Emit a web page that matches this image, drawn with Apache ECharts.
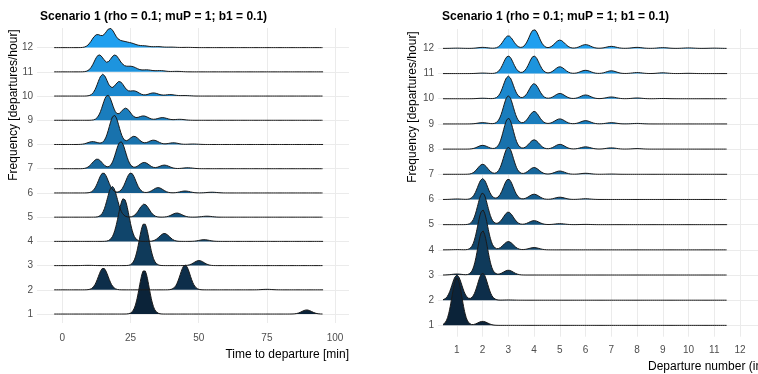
<!DOCTYPE html>
<html>
<head>
<meta charset="utf-8">
<script src="https://cdn.jsdelivr.net/npm/echarts@6/dist/echarts.min.js"></script>
<style>
  html, body { margin: 0; padding: 0; background: #fff; }
  #chart { width: 758px; height: 374px; }
</style>
</head>
<body>
<div id="chart"></div>
<script>
// 频率行 1..12
var rows = [1, 2, 3, 4, 5, 6, 7, 8, 9, 10, 11, 12];
var timeTicks = [0, 25, 50, 75, 100];
var departureTicks = [1, 2, 3, 4, 5, 6, 7, 8, 9, 10, 11, 12];

// 左图：每行的峰 [分钟, 高度(行距)]
var timePeaks = [
  [[30, 1.82], [89.6, 0.17]],
  [[15, 0.90], [45, 1.03], [75, 0.02]],
  [[9.5, 0.01], [30, 1.75], [50.1, 0.21]],
  [[21.2, 0.45], [22.8, 1.45], [37.4, 0.33], [52, 0.07]],
  [[18.3, 1.27], [30, 0.54], [42, 0.17], [53, 0.04]],
  [[15, 0.83], [25.1, 0.83], [35.1, 0.22], [45, 0.08], [54.8, 0.03]],
  [[12.8, 0.40], [21.4, 1.12], [30, 0.26], [37.4, 0.15], [46, 0.04]],
  [[11.1, 0.12], [19, 1.21], [26.3, 0.34], [33.4, 0.18], [40.7, 0.07], [48, 0.02]],
  [[16.6, 1.04], [23.2, 0.50], [29.7, 0.18], [36.7, 0.11], [43, 0.04]],
  [[14.8, 0.90], [20.9, 0.60], [26.3, 0.21], [33.4, 0.13], [39.5, 0.06], [45, 0.02]],
  [[13.5, 0.70], [19.2, 0.68], [23, 0.12], [25.8, 0.18], [31, 0.08], [36, 0.05], [42, 0.02]],
  [[12.6, 0.52], [17.5, 0.78], [22, 0.22], [25.5, 0.15], [30, 0.07], [35, 0.04], [40, 0.02], [46, 0.01]]
];

// 右图：每行各班次 1..11 的高度(行距)
var departureShares = [
  [1.90, 0.16, 0, 0, 0, 0, 0, 0, 0, 0, 0],
  [1.00, 1.08, 0.01, 0, 0, 0, 0, 0, 0, 0, 0],
  [0.04, 1.76, 0.19, 0, 0, 0, 0, 0, 0, 0, 0],
  [0.01, 1.59, 0.33, 0.09, 0, 0, 0, 0, 0, 0, 0],
  [0, 1.26, 0.50, 0.16, 0.04, 0.01, 0, 0, 0, 0, 0],
  [0.02, 0.83, 0.81, 0.21, 0.09, 0.03, 0, 0, 0, 0, 0],
  [0, 0.40, 1.08, 0.27, 0.13, 0.04, 0.01, 0, 0, 0, 0],
  [0, 0.15, 1.23, 0.37, 0.19, 0.09, 0.05, 0.02, 0, 0, 0],
  [0, 0.05, 1.12, 0.50, 0.20, 0.13, 0.05, 0.02, 0, 0, 0],
  [0, 0.02, 0.90, 0.60, 0.21, 0.15, 0.07, 0.03, 0.01, 0, 0],
  [0, 0.02, 0.70, 0.70, 0.27, 0.13, 0.11, 0.04, 0.03, 0.01, 0],
  [0.01, 0.04, 0.50, 0.75, 0.33, 0.15, 0.08, 0.04, 0.03, 0.02, 0.01]
];

var FONT = "'Liberation Sans', Arial, sans-serif";
var GRID_COLOR = "#ebebeb";

//  颜色渐变
function rowColor(i) {
  var lo = [11, 35, 57], hi = [31, 159, 239];
  var t = i / 11;
  var c = lo.map(function(v, k) { return Math.round(v + (hi[k] - v) * t); });
  return "rgb(" + c.join(",") + ")";
}

//  核密度曲线
function ridge(peaks, from, to, step, bw, row) {
  var pts = [];
  for (var x = from; x <= to + 1e-9; x += step) {
    var d = 0;
    peaks.forEach(function(p) {
      d += p[1] * Math.exp(-(x - p[0]) * (x - p[0]) / (2 * bw * bw));
    });
    pts.push([+x.toFixed(3), row + d]);
  }
  return pts;
}

var series = [];
for (var i = rows.length - 1; i >= 0; i--) {
  var r = rows[i];
  series.push({
    type: "line",
    xAxisIndex: 0,
    yAxisIndex: 0,
    data: ridge(timePeaks[i], -3, 95.7, 0.2, 1.8, r),
    showSymbol: false,
    silent: true,
    lineStyle: { color: "#1a1a1a", width: 1 },
    areaStyle: { color: rowColor(i), opacity: 1, origin: r }
  });
  series.push({
    type: "line",
    xAxisIndex: 1,
    yAxisIndex: 1,
    data: ridge(departureShares[i].map(function(h, k) { return [k + 1, h]; }), 0.46, 11.5, 0.02, 0.19, r),
    showSymbol: false,
    silent: true,
    lineStyle: { color: "#1a1a1a", width: 1 },
    areaStyle: { color: rowColor(i), opacity: 1, origin: r }
  });
}

function yAxisFor(idx, min, max) {
  return {
    type: "value",
    gridIndex: idx,
    min: min,
    max: max,
    axisLine: { show: false },
    axisTick: { show: false, customValues: rows },
    axisLabel: { customValues: rows, color: "#4d4d4d", fontSize: 10, fontFamily: FONT, margin: 4 },
    splitLine: { show: true, lineStyle: { color: GRID_COLOR, width: 1 } }
  };
}

function xAxisFor(idx, min, max, ticks, margin) {
  return {
    type: "value",
    gridIndex: idx,
    min: min,
    max: max,
    axisLine: { show: false },
    axisTick: { show: false, customValues: ticks },
    axisLabel: { customValues: ticks, color: "#4d4d4d", fontSize: 10, fontFamily: FONT, margin: margin },
    splitLine: { show: true, lineStyle: { color: GRID_COLOR, width: 1 } }
  };
}

var myChart = echarts.init(document.getElementById("chart"), null, { renderer: "canvas" });
myChart.setOption({
  animation: false,
  backgroundColor: "#fff",
  grid: [
    { left: 37, top: 28, width: 312, height: 295 },
    { left: 438, top: 29, width: 327, height: 307.7 }
  ],
  xAxis: [
    xAxisFor(0, -9.3, 105.1, timeTicks, 10),
    xAxisFor(1, 0.266, 12.7, departureTicks, 9)
  ],
  yAxis: [
    yAxisFor(0, 0.63, 12.81),
    yAxisFor(1, 0.55, 12.77)
  ],
  series: series,
  graphic: [
    { type: "text", x: 40, y: 17, style: { text: "Scenario 1 (rho = 0.1; muP = 1; b1 = 0.1)", font: "bold 12px " + FONT, fill: "#000", textVerticalAlign: "middle" } },
    { type: "text", x: 442, y: 17, style: { text: "Scenario 1 (rho = 0.1; muP = 1; b1 = 0.1)", font: "bold 12px " + FONT, fill: "#000", textVerticalAlign: "middle" } },
    { type: "text", x: 349, y: 355, style: { text: "Time to departure [min]", font: "12px " + FONT, fill: "#000", textAlign: "right", textVerticalAlign: "middle" } },
    { type: "text", x: 648, y: 367, style: { text: "Departure number (index)", font: "12px " + FONT, fill: "#000", textAlign: "left", textVerticalAlign: "middle" } },
    { type: "text", x: 14, y: 105, rotation: Math.PI / 2, style: { text: "Frequency [departures/hour]", font: "12px " + FONT, fill: "#000", textAlign: "center", textVerticalAlign: "middle" } },
    { type: "text", x: 413, y: 107, rotation: Math.PI / 2, style: { text: "Frequency [departures/hour]", font: "12px " + FONT, fill: "#000", textAlign: "center", textVerticalAlign: "middle" } }
  ]
});
</script>
</body>
</html>
